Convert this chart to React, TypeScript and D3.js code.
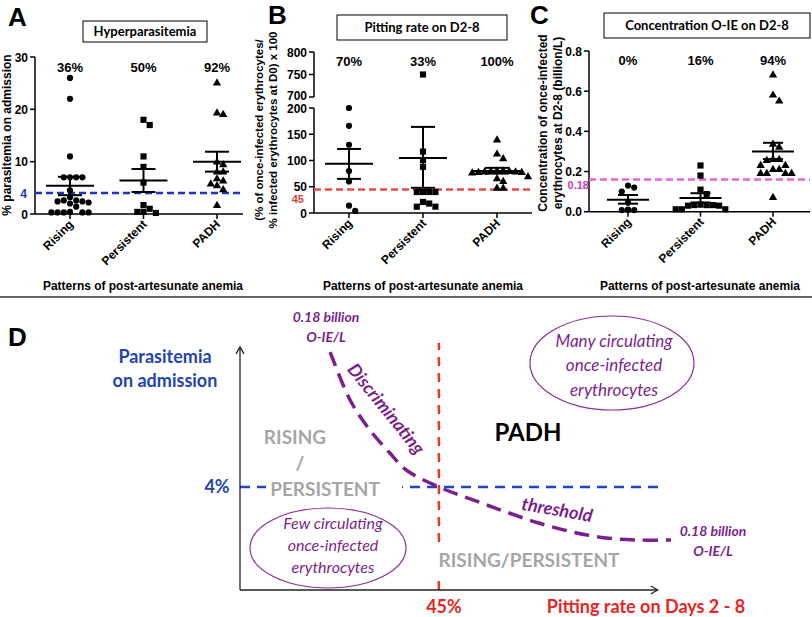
import * as d3 from "d3";

const CATS = ["Rising", "Persistent", "PADH"];
const SYMBOLS = [d3.symbolCircle, d3.symbolSquare, d3.symbolTriangle];
const SYM_SIZE = [30, 38, 30];

// A: % parasitemia on admission
const PARA_RISING = [26, 22, 11, 7, 7, 7, 7, 4.5, 3.2, 2.6, 2.4, 2.2, 2.4, 2.6, 2.0, 1.4, 0.3, 0.3, 0.3, 0.3, 0.3, 0.4];
const PARA_PERSIST = [18, 17, 11, 9, 6, 1.7, 0.4, 0.2, 0.4, 1.0];
const PARA_PADH = [25, 19.3, 19, 9.9, 9.4, 8, 8, 6.7, 6.3, 5.7, 5.4, 4.6, 1.6];
const PARA_MEAN = [5.4, 6.4, 10.0];
const PARA_LO = [3.6, 4.2, 8.1];
const PARA_HI = [7.1, 8.6, 11.9];
const PARA_PCT = ["36%", "50%", "92%"];
const PARA_TICKS = [0, 10, 20, 30];

// B: pitting rate
const PIT_RISING = [200, 166, 130, 80, 60, 14, 4];
const PIT_PERSIST = [750, 117, 101, 88, 40, 40, 40, 40, 21, 18, 12, 12];
const PIT_PADH = [139, 112, 103, 80, 80, 79, 79, 78, 78, 77, 77, 76, 69, 65, 60, 47, 47];
const PIT_MEAN = [94, 105, 80];
const PIT_LO = [65, 48, 75];
const PIT_HI = [122, 164, 86];
const PIT_PCT = ["70%", "33%", "100%"];
const PIT_TICKS_LO = [0, 50, 100, 150, 200];
const PIT_TICKS_HI = [700, 750, 800];

// C: concentration of once-infected erythrocytes
const OIE_RISING = [0.13, 0.12, 0.1, 0.045, 0.01, 0.008, 0.008];
const OIE_PERSIST = [0.23, 0.18, 0.11, 0.088, 0.035, 0.033, 0.033, 0.03, 0.033, 0.03, 0.012, 0.012, 0.012];
const OIE_PADH = [0.68, 0.58, 0.55, 0.335, 0.32, 0.26, 0.26, 0.255, 0.23, 0.23, 0.21, 0.21, 0.19, 0.19, 0.19, 0.19, 0.07];
const OIE_MEAN = [0.06, 0.068, 0.3];
const OIE_LO = [0.04, 0.046, 0.262];
const OIE_HI = [0.083, 0.092, 0.343];
const OIE_PCT = ["0%", "16%", "94%"];
const OIE_TICKS = [0, 0.2, 0.4, 0.6, 0.8];

// D: conceptual diagram
const D_CURVE_X = [20.4, 24.9, 29.4, 33.9, 37.6, 45, 52.7, 60.2, 67.6, 75.3, 82.8, 90.3, 97.5];
const D_CURVE_Y = [9.24, 7.38, 6.21, 5.32, 4.66, 4, 3.5, 3.03, 2.6, 2.25, 2.02, 1.94, 1.94];

const ARIAL = "'Liberation Sans', Arial, sans-serif";
const CALIBRI = "Lato, 'Open Sans', sans-serif";
const PURPLE = "#7b1f8c";

// simple dodge so equal values sit side by side
function swarm(vals: number[], y: (v: number) => number, cx: number, step = 6.2) {
  const placed: { x: number; y: number }[] = [];
  const sorted = [...vals].sort((a, b) => b - a);
  for (const v of sorted) {
    const py = y(v);
    for (let k = 0; k < 30; k++) {
      const off = k === 0 ? 0 : (k % 2 ? 1 : -1) * Math.ceil(k / 2) * step;
      const px = cx + off;
      const hit = placed.some((p) => Math.abs(p.x - px) < step - 0.1 && Math.abs(p.y - py) < step);
      if (!hit) {
        placed.push({ x: px, y: py });
        break;
      }
    }
  }
  return placed;
}

type PanelProps = {
  x: d3.ScalePoint<string>;
  y: (v: number) => number;
  axisX: number;
  axisY: number;
  axisEnd: number;
  series: number[][];
  mean: number[];
  lo: number[];
  hi: number[];
  pct: string[];
  pctY: number;
  half: number;
  cap: number;
  ticks: number[];
  fmt: (v: number) => string;
};

function DotPanel(p: PanelProps) {
  return (
    <g>
      {p.ticks.map((t) => (
        <g key={t}>
          <line x1={p.axisX - 5} x2={p.axisX} y1={p.y(t)} y2={p.y(t)} stroke="#000" strokeWidth={1.5} />
          <text x={p.axisX - 7} y={p.y(t) + 4.5} textAnchor="end" fontSize={12} fontWeight="bold" fontFamily={ARIAL}>
            {p.fmt(t)}
          </text>
        </g>
      ))}
      <line x1={p.axisX} x2={p.axisEnd} y1={p.axisY} y2={p.axisY} stroke="#000" strokeWidth={1.5} />
      {CATS.map((c, i) => {
        const cx = p.x(c)!;
        const pts = swarm(p.series[i], p.y, cx);
        const sym = d3.symbol().type(SYMBOLS[i]).size(SYM_SIZE[i])()!;
        return (
          <g key={c}>
            <line x1={cx} x2={cx} y1={p.axisY} y2={p.axisY + 5} stroke="#000" strokeWidth={1.5} />
            <text
              transform={`translate(${cx + 4},${p.axisY + 11}) rotate(-45)`}
              textAnchor="end"
              fontSize={12}
              fontWeight="bold"
              fontFamily={ARIAL}
            >
              {c}
            </text>
            <text x={cx} y={p.pctY} textAnchor="middle" fontSize={13} fontWeight="bold" fontFamily={ARIAL}>
              {p.pct[i]}
            </text>
            {pts.map((q, j) => (
              <path key={j} d={sym} transform={`translate(${q.x},${q.y})`} fill="#000" />
            ))}
            <line x1={cx - p.half} x2={cx + p.half} y1={p.y(p.mean[i])} y2={p.y(p.mean[i])} stroke="#000" strokeWidth={2} />
            <line x1={cx} x2={cx} y1={p.y(p.lo[i])} y2={p.y(p.hi[i])} stroke="#000" strokeWidth={2} />
            <line x1={cx - p.cap} x2={cx + p.cap} y1={p.y(p.lo[i])} y2={p.y(p.lo[i])} stroke="#000" strokeWidth={2} />
            <line x1={cx - p.cap} x2={cx + p.cap} y1={p.y(p.hi[i])} y2={p.y(p.hi[i])} stroke="#000" strokeWidth={2} />
          </g>
        );
      })}
    </g>
  );
}

function TitleBox({ x0, x1, y0, y1, label }: { x0: number; x1: number; y0: number; y1: number; label: string }) {
  return (
    <g>
      <rect x={x0} y={y0} width={x1 - x0} height={y1 - y0} fill="#fff" stroke="#000" strokeWidth={1} />
      <text x={(x0 + x1) / 2} y={(y0 + y1) / 2 + 4.5} textAnchor="middle" fontSize={13} fontWeight="bold" fontFamily={CALIBRI}>
        {label}
      </text>
    </g>
  );
}

export default function App() {
  const xA = d3.scalePoint<string>().domain(CATS).range([70, 217]);
  const yA = d3.scaleLinear().domain([0, 30]).range([214, 57]);
  const xB = d3.scalePoint<string>().domain(CATS).range([349, 497]);
  const yBlo = d3.scaleLinear().domain([0, 200]).range([213, 108]);
  const yBhi = d3.scaleLinear().domain([700, 800]).range([97, 52]);
  const yB = (v: number) => (v >= 700 ? yBhi(v) : yBlo(v));
  const xC = d3.scalePoint<string>().domain(CATS).range([628, 773]);
  const yC = d3.scaleLinear().domain([0, 0.8]).range([211.7, 51]);

  const xD = d3.scaleLinear().domain([0, 100]).range([240, 682]);
  const yD = d3.scaleLinear().domain([0, 10]).range([590, 332.5]);
  const curve = d3
    .line<number>()
    .x((d) => xD(D_CURVE_X[d]))
    .y((d) => yD(D_CURVE_Y[d]))
    .curve(d3.curveCatmullRom)(D_CURVE_X.map((_, i) => i))!;

  const xTitle = "Patterns of post-artesunate anemia";
  const dAxisTop = yD(9.44);
  const dAxisRight = xD(94.5);

  return (
    <div style={{ position: "absolute", left: 0, top: 0 }}>
      <svg width={812} height={617} style={{ display: "block", background: "#fff" }}>
        {/* Panel A */}
        <text x={8} y={26} fontSize={26} fontWeight="bold" fontFamily={ARIAL}>A</text>
        <TitleBox x0={83} x1={207} y0={21} y1={42} label="Hyperparasitemia" />
        <line x1={35} x2={35} y1={57} y2={214} stroke="#000" strokeWidth={1.5} />
        <line x1={35} x2={243} y1={yA(4)} y2={yA(4)} stroke="#2233c4" strokeWidth={2.5} strokeDasharray="7 4" />
        <text x={27} y={yA(4) + 5} textAnchor="end" fontSize={12} fontWeight="bold" fill="#2233c4" fontFamily={ARIAL}>4</text>
        <DotPanel
          x={xA} y={yA} axisX={35} axisY={214} axisEnd={243}
          series={[PARA_RISING, PARA_PERSIST, PARA_PADH]}
          mean={PARA_MEAN} lo={PARA_LO} hi={PARA_HI}
          pct={PARA_PCT} pctY={72} half={24} cap={12}
          ticks={PARA_TICKS} fmt={(v) => String(v)}
        />
        <text transform="translate(11,135) rotate(-90)" textAnchor="middle" fontSize={12} fontWeight="bold" fontFamily={ARIAL}>
          % parasitemia on admission
        </text>
        <text x={143} y={290} textAnchor="middle" fontSize={12.5} fontWeight="bold" fontFamily={ARIAL} textLength={200} lengthAdjust="spacingAndGlyphs">
          {xTitle}
        </text>

        {/* Panel B */}
        <TitleBox x0={337} x1={507} y0={15} y1={40} label="Pitting rate on D2-8" />
        <text transform="translate(263,130) rotate(-90)" textAnchor="middle" fontSize={11.5} fontWeight="bold" fontFamily={ARIAL}>
          (% of once-infected erythrocytes/
        </text>
        <text transform="translate(277,130) rotate(-90)" textAnchor="middle" fontSize={11.5} fontWeight="bold" fontFamily={ARIAL}>
          % infected erythrocytes at D0) x 100
        </text>
        <rect x={266} y={2} width={24} height={25} fill="#fff" />
        <text x={268} y={24} fontSize={26} fontWeight="bold" fontFamily={ARIAL}>B</text>
        <line x1={314} x2={314} y1={52} y2={97} stroke="#000" strokeWidth={1.5} />
        <line x1={314} x2={314} y1={108} y2={213} stroke="#000" strokeWidth={1.5} />
        {PIT_TICKS_HI.map((t) => (
          <g key={t}>
            <line x1={309} x2={314} y1={yBhi(t)} y2={yBhi(t)} stroke="#000" strokeWidth={1.5} />
            <text x={307} y={yBhi(t) + (t === 700 ? 3 : 4.5)} textAnchor="end" fontSize={12} fontWeight="bold" fontFamily={ARIAL}>{t}</text>
          </g>
        ))}
        <line x1={314} x2={532} y1={yBlo(45)} y2={yBlo(45)} stroke="#e84a4a" strokeWidth={2.5} strokeDasharray="7 4" />
        <DotPanel
          x={xB} y={yB} axisX={314} axisY={213} axisEnd={532}
          series={[PIT_RISING, PIT_PERSIST, PIT_PADH]}
          mean={PIT_MEAN} lo={PIT_LO} hi={PIT_HI}
          pct={PIT_PCT} pctY={66} half={24} cap={12}
          ticks={PIT_TICKS_LO} fmt={(v) => String(v)}
        />
        <text x={304} y={yBlo(45) + 13.5} textAnchor="end" fontSize={11} fontWeight="bold" fill="#e83a3a" fontFamily={ARIAL}>45</text>
        <text x={423} y={290} textAnchor="middle" fontSize={12.5} fontWeight="bold" fontFamily={ARIAL} textLength={200} lengthAdjust="spacingAndGlyphs">
          {xTitle}
        </text>

        {/* Panel C */}
        <text x={530} y={24} fontSize={26} fontWeight="bold" fontFamily={ARIAL}>C</text>
        <TitleBox x0={604} x1={810} y0={13} y1={38} label="Concentration O-IE on D2-8" />
        <line x1={589} x2={589} y1={51} y2={211.7} stroke="#000" strokeWidth={1.5} />
        <line x1={589} x2={810} y1={yC(0.16)} y2={yC(0.16)} stroke="#e066d6" strokeWidth={2.5} strokeDasharray="7 4" />
        <DotPanel
          x={xC} y={yC} axisX={589} axisY={211.7} axisEnd={810}
          series={[OIE_RISING, OIE_PERSIST, OIE_PADH]}
          mean={OIE_MEAN} lo={OIE_LO} hi={OIE_HI}
          pct={OIE_PCT} pctY={65} half={21} cap={10}
          ticks={OIE_TICKS} fmt={(v) => v.toFixed(1)}
        />
        <text x={589} y={yC(0.16) + 9} textAnchor="end" fontSize={11} fontWeight="bold" fill="#c03ec0" fontFamily={ARIAL}>0.18</text>
        <text transform="translate(547,123) rotate(-90)" textAnchor="middle" fontSize={12} fontWeight="bold" fontFamily={ARIAL}>
          Concentration of once-infected
        </text>
        <text transform="translate(562,123) rotate(-90)" textAnchor="middle" fontSize={12} fontWeight="bold" fontFamily={ARIAL}>
          erythrocytes at D2-8 (billion/L)
        </text>
        <text x={700} y={290} textAnchor="middle" fontSize={12.5} fontWeight="bold" fontFamily={ARIAL} textLength={200} lengthAdjust="spacingAndGlyphs">
          {xTitle}
        </text>

        {/* separator */}
        <line x1={0} x2={812} y1={297} y2={297} stroke="#333" strokeWidth={1.5} />

        {/* Panel D */}
        <text x={8} y={346} fontSize={26} fontWeight="bold" fontFamily={ARIAL}>D</text>
        <text x={165} y={363} textAnchor="middle" fontSize={18} fontWeight="bold" fill="#1f45b0" fontFamily={CALIBRI}>Parasitemia</text>
        <text x={165} y={387} textAnchor="middle" fontSize={18} fontWeight="bold" fill="#1f45b0" fontFamily={CALIBRI}>on admission</text>

        <ellipse cx={612} cy={363} rx={82} ry={47} fill="#fff" stroke="#8a2d95" strokeWidth={1.2} />
        <text textAnchor="middle" fontSize={17} fontStyle="italic" fill={PURPLE} fontFamily={CALIBRI}>
          <tspan x={614} y={347}>Many circulating</tspan>
          <tspan x={614} y={371}>once-infected</tspan>
          <tspan x={614} y={396}>erythrocytes</tspan>
        </text>

        {/* thresholds */}
        <line x1={xD(0)} x2={xD(96)} y1={yD(4)} y2={yD(4)} stroke="#1f45c0" strokeWidth={2.5} strokeDasharray="10 7" />
        <line x1={xD(45)} x2={xD(45)} y1={yD(0)} y2={yD(9.6)} stroke="#e8362a" strokeWidth={2.5} strokeDasharray="9 7" />
        <path d={curve} fill="none" stroke={PURPLE} strokeWidth={3.5} strokeDasharray="15 8" />

        {/* axes */}
        <line x1={240} x2={240} y1={590} y2={dAxisTop} stroke="#222" strokeWidth={1.3} />
        <polyline points={`236,${dAxisTop + 7} 240,${dAxisTop} 244,${dAxisTop + 7}`} fill="none" stroke="#222" strokeWidth={1.3} />
        <line x1={240} x2={dAxisRight} y1={590} y2={590} stroke="#222" strokeWidth={1.3} />
        <polyline points={`${dAxisRight - 7},586 ${dAxisRight},590 ${dAxisRight - 7},594`} fill="none" stroke="#222" strokeWidth={1.3} />

        <text x={217} y={yD(4) + 6} textAnchor="middle" fontSize={18} fontWeight="bold" fill="#1f45b0" fontFamily={CALIBRI}>4%</text>

        <text x={295} y={444} textAnchor="middle" fontSize={19} fontWeight="bold" fill="#a6a6a6" fontFamily={CALIBRI}>RISING</text>
        <text x={300} y={470} textAnchor="middle" fontSize={19} fontWeight="bold" fill="#a6a6a6" fontFamily={CALIBRI}>/</text>
        <rect x={266} y={476} width={136} height={24} fill="#fff" />
        <text x={325} y={496} textAnchor="middle" fontSize={19} fontWeight="bold" fill="#a6a6a6" fontFamily={CALIBRI}>PERSISTENT</text>

        <text x={528} y={441} textAnchor="middle" fontSize={24} fontWeight="bold" fill="#000" fontFamily={CALIBRI}>PADH</text>

        <rect x={432} y={544} width={194} height={31} fill="#fff" />
        <text x={529} y={567} textAnchor="middle" fontSize={19} fontWeight="bold" fill="#a6a6a6" fontFamily={CALIBRI}>RISING/PERSISTENT</text>

        <ellipse cx={328} cy={548} rx={78} ry={40} fill="none" stroke="#8a2d95" strokeWidth={1.2} />
        <text textAnchor="middle" fontSize={16} fontStyle="italic" fill={PURPLE} fontFamily={CALIBRI}>
          <tspan x={333} y={529}>Few circulating</tspan>
          <tspan x={333} y={551}>once-infected</tspan>
          <tspan x={333} y={573}>erythrocytes</tspan>
        </text>

        <text textAnchor="middle" fontSize={14} fontWeight="bold" fontStyle="italic" fill={PURPLE} fontFamily={CALIBRI}>
          <tspan x={326} y={322}>0.18 billion</tspan>
          <tspan x={326} y={342}>O-IE/L</tspan>
        </text>
        <text textAnchor="middle" fontSize={14} fontWeight="bold" fontStyle="italic" fill={PURPLE} fontFamily={CALIBRI}>
          <tspan x={713} y={536}>0.18 billion</tspan>
          <tspan x={713} y={556}>O-IE/L</tspan>
        </text>
        <text transform="translate(386,409) rotate(51)" textAnchor="middle" dy={6} fontSize={18} fontWeight="bold" fontStyle="italic" fill={PURPLE} fontFamily={CALIBRI}>
          Discriminating
        </text>
        <text transform="translate(557,510) rotate(10)" textAnchor="middle" dy={6} fontSize={18} fontWeight="bold" fontStyle="italic" fill={PURPLE} fontFamily={CALIBRI}>
          threshold
        </text>

        <text x={444} y={613} textAnchor="middle" fontSize={18} fontWeight="bold" fill="#e8251f" fontFamily={CALIBRI}>45%</text>
        <text x={646} y={613} textAnchor="middle" fontSize={18} fontWeight="bold" fill="#e8251f" fontFamily={CALIBRI}>Pitting rate on Days 2 - 8</text>
      </svg>
    </div>
  );
}
